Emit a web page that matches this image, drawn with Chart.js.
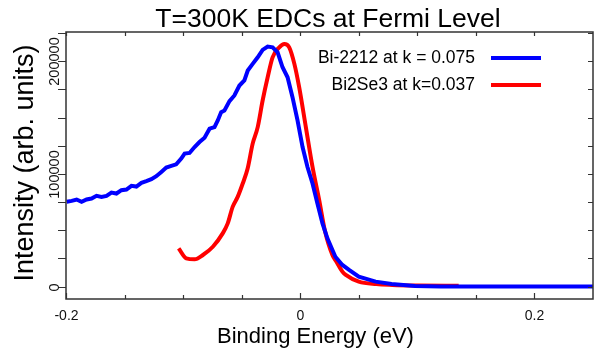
<!DOCTYPE html>
<html>
<head>
<meta charset="utf-8">
<script src="https://cdn.jsdelivr.net/npm/chart.js@4"></script>
<style>
  html, body { margin: 0; padding: 0; background: #fff; }
  #wrap { width: 595px; height: 350px; }
</style>
</head>
<body>
<div id="wrap"><canvas id="chart"></canvas></div>
<script>
// Bi-2212 EDC, k = 0.075
const bscoE = [-0.1994, -0.1952, -0.1909, -0.1867, -0.1824, -0.1782, -0.1739, -0.1697, -0.1654, -0.1612,
  -0.1569, -0.1527, -0.1484, -0.1441, -0.1399, -0.1356, -0.1314, -0.1271, -0.1229, -0.1186,
  -0.1144, -0.1101, -0.1059, -0.1016, -0.0987, -0.0945, -0.0902, -0.0860, -0.0817, -0.0774,
  -0.0732, -0.0704, -0.0675, -0.0647, -0.0604, -0.0562, -0.0519, -0.0477, -0.0448, -0.0406,
  -0.0363, -0.0321, -0.0278, -0.0236, -0.0193, -0.0151, -0.0108, -0.0066, -0.0023, 0.0020,
  0.0062, 0.0105, 0.0147, 0.0190, 0.0232, 0.0275, 0.0300, 0.0360, 0.0417, 0.0500,
  0.0644, 0.0780, 0.0980, 0.1200, 0.1500, 0.2000, 0.2500];
const bscoI = [75250, 76130, 77320, 75250, 77320, 78200, 80560, 79680, 80560, 83510,
  82630, 85580, 86170, 89410, 88820, 92060, 93540, 95310, 97960, 101800,
  105640, 107110, 108590, 113600, 118030, 118620, 123930, 128350, 132190, 140150,
  141630, 147530, 154900, 156380, 164640, 169660, 178510, 182940, 191790, 197680,
  203580, 210070, 213020, 212430, 208000, 194700, 185850, 168150, 147500, 123900,
  106200, 91500, 73800, 56100, 42800, 32500, 26500, 19200, 14800, 8800,
  4400, 2400, 600, 200, 0, 0, 0];

// Bi2Se3 EDC, k = 0.037
const bi2se3E = [-0.1038, -0.0973, -0.0902, -0.0831, -0.0746, -0.0662, -0.0619, -0.0577, -0.0534, -0.0491,
  -0.0449, -0.0406, -0.0363, -0.0321, -0.0278, -0.0236, -0.0179, -0.0136, -0.0094, -0.0050,
  -0.0009, 0.0048, 0.0105, 0.0162, 0.0210, 0.0275, 0.0304, 0.0360, 0.0389, 0.0500,
  0.0650, 0.0786, 0.1000, 0.1353];
const bi2se3I = [33950, 25100, 24220, 28050, 35400, 47250, 56100, 70800, 79650, 91500,
  104800, 126900, 141600, 165200, 185800, 203500, 212400, 215400, 212400, 197700,
  177000, 141600, 106200, 76700, 50000, 28000, 23000, 13300, 10400, 4400,
  2200, 1500, 1000, 700];

const seriesNames = ["Bi-2212 at k = 0.075", "Bi2Se3 at k=0.037"];
const seriesColors = ["#0000ff", "#ff0000"];

// ticks
const xTickValues = [-0.2, -0.15, -0.1, -0.05, 0, 0.05, 0.1, 0.15, 0.2];
const xTickLabels = ["-0.2", "", "", "", "0", "", "", "", "0.2"];
const yTickValues = [0, 25000, 50000, 75000, 100000, 125000, 150000, 175000, 200000, 225000];
const yTickLabels = ["0", "", "", "", "100000", "", "", "", "200000", ""];

const FONT = "'Liberation Sans', Arial, sans-serif";

const decor = {
  id: "decor",
  afterDraw(chart) {
    const ctx = chart.ctx;
    const a = chart.chartArea;
    const xs = chart.scales.x, ys = chart.scales.y;
    ctx.save();
    // frame
    ctx.strokeStyle = "#333";
    ctx.lineWidth = 1.5;
    ctx.strokeRect(a.left, a.top, a.right - a.left, a.bottom - a.top);
    // x ticks: bottom and top, pointing inward
    ctx.lineWidth = 1.2;
    ctx.fillStyle = "#111";
    ctx.font = "14px " + FONT;
    ctx.textAlign = "center";
    ctx.textBaseline = "alphabetic";
    xTickValues.forEach((v, i) => {
      const px = Math.round(xs.getPixelForValue(v)) + 0.5;
      const len = xTickLabels[i] ? 6 : 4;
      ctx.beginPath();
      ctx.moveTo(px, a.bottom); ctx.lineTo(px, a.bottom - len);
      ctx.moveTo(px, a.top); ctx.lineTo(px, a.top + 4);
      ctx.stroke();
      if (xTickLabels[i]) ctx.fillText(xTickLabels[i], px, 320);
    });
    // y ticks: left outward, right inward
    yTickValues.forEach((v, i) => {
      const py = Math.round(ys.getPixelForValue(v)) + 0.5;
      if (py < a.top) return;
      ctx.beginPath();
      ctx.moveTo(a.left, py); ctx.lineTo(a.left - 8, py);
      ctx.moveTo(a.right, py); ctx.lineTo(a.right - 5, py);
      ctx.stroke();
      if (yTickLabels[i]) {
        ctx.save();
        ctx.translate(59, py);
        ctx.rotate(-Math.PI / 2);
        ctx.font = "14.5px " + FONT;
        ctx.textAlign = "center";
        ctx.fillText(yTickLabels[i], 0, 0);
        ctx.restore();
      }
    });
    // title
    ctx.fillStyle = "#000";
    ctx.font = "26.5px " + FONT;
    ctx.textAlign = "center";
    ctx.fillText("T=300K EDCs at Fermi Level", 328, 26.5);
    // axis titles
    ctx.font = "22px " + FONT;
    ctx.fillText("Binding Energy (eV)", 315.5, 343);
    ctx.save();
    ctx.translate(33, 163);
    ctx.rotate(-Math.PI / 2);
    ctx.font = "27px " + FONT;
    ctx.fillText("Intensity (arb. units)", 0, 0);
    ctx.restore();
    // legend
    ctx.font = "17.5px " + FONT;
    ctx.textAlign = "right";
    ctx.textBaseline = "middle";
    chart.data.datasets.forEach((ds, i) => {
      const y = 58 + i * 27;
      ctx.fillStyle = "#000";
      ctx.fillText(ds.label, 475, y);
      ctx.strokeStyle = ds.borderColor;
      ctx.lineWidth = 4;
      ctx.beginPath();
      ctx.moveTo(491, y); ctx.lineTo(541, y);
      ctx.stroke();
    });
    ctx.restore();
  }
};

new Chart(document.getElementById("chart"), {
  type: "line",
  data: {
    datasets: [
      {
        label: seriesNames[0],
        data: bscoE.map((e, i) => ({ x: e, y: bscoI[i] })),
        borderColor: seriesColors[0],
        borderWidth: 4,
        pointRadius: 0,
        tension: 0
      },
      {
        label: seriesNames[1],
        data: bi2se3E.map((e, i) => ({ x: e, y: bi2se3I[i] })),
        borderColor: seriesColors[1],
        borderWidth: 4,
        pointRadius: 0,
        cubicInterpolationMode: "monotone"
      }
    ]
  },
  options: {
    responsive: true,
    maintainAspectRatio: false,
    animation: false,
    layout: { padding: { left: 66, top: 32, right: 2, bottom: 51 } },
    plugins: { legend: { display: false }, title: { display: false }, tooltip: { enabled: false } },
    scales: {
      x: {
        type: "linear", min: -0.2, max: 0.25,
        ticks: { display: false }, grid: { display: false }, border: { display: false },
        afterFit: (s) => { s.height = 0; }
      },
      y: {
        type: "linear", min: -11000, max: 226000,
        ticks: { display: false }, grid: { display: false }, border: { display: false },
        afterFit: (s) => { s.width = 0; }
      }
    }
  },
  plugins: [decor]
});
</script>
</body>
</html>
